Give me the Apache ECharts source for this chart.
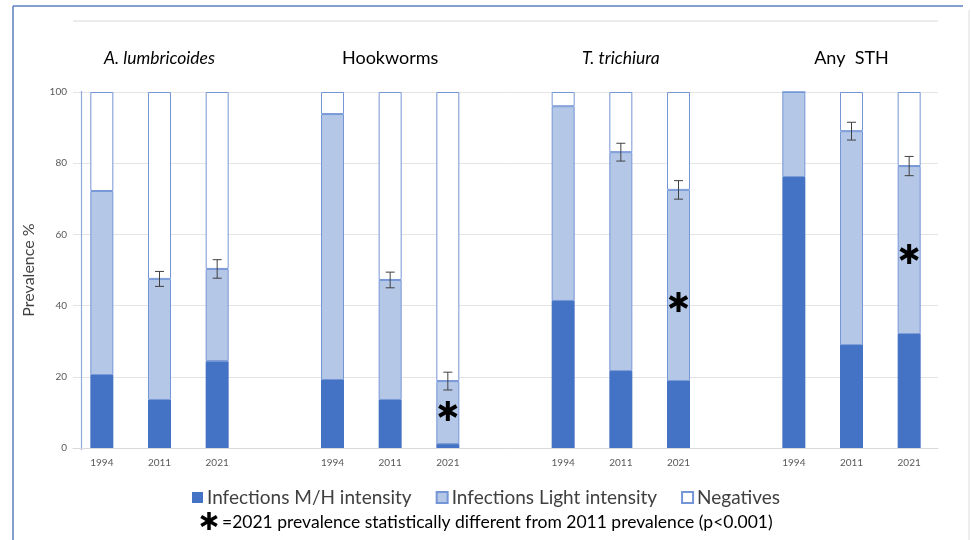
<!DOCTYPE html>
<html><head><meta charset="utf-8">
<script src="https://cdn.jsdelivr.net/npm/echarts@6/dist/echarts.min.js"></script>
<style>html,body{margin:0;padding:0;background:#fff}#c{width:972px;height:540px}</style>
</head><body><div id="c"></div>
<script>
const categories = ['1994','2011','2021','','1994','2011','2021','','1994','2011','2021','','1994','2011','2021'];
const groupTitles = ['A. lumbricoides','Hookworms','T. trichiura','Any  STH'];
const groupTitleItalic = [true,false,true,false];
const groupCenterIndex = [1,5,9,13];
const yTicks = [0,20,40,60,80,100];
const mhIntensity =    [20.5,13.5,24.4,null,19.1,13.5, 1.1,null,41.3,21.6,18.8,null,76.1,28.9,32.0];
const lightIntensity = [51.7,34.0,25.9,null,74.7,33.7,17.7,null,54.7,61.5,53.7,null,23.9,60.1,47.2];
const negatives =      [27.8,52.5,49.7,null, 6.2,52.8,81.2,null, 4.0,16.9,27.5,null, 0.0,11.0,20.8];
const errorHalf =      [null, 2.1, 2.6,null,null, 2.2, 2.5,null,null, 2.5, 2.6,null,null, 2.5, 2.7];
const asteriskAt =     [null,null,null,null,null,null,10.4,null,null,null,41.0,null,null,null,54.5];

const FONT = 'Lato, "Open Sans", sans-serif';
const chart = echarts.init(document.getElementById('c'), null, {renderer:'canvas'});

const errData = [];
categories.forEach((c,i)=>{ if(errorHalf[i]!=null) errData.push([i, mhIntensity[i]+lightIntensity[i], errorHalf[i]]); });
const astData = [];
categories.forEach((c,i)=>{ if(asteriskAt[i]!=null) astData.push([i, asteriskAt[i]]); });

function asteriskShape(cx, cy, r, lw){
  const kids = [];
  [90,30,150].forEach(a=>{
    const rad = a*Math.PI/180;
    kids.push({type:'line', shape:{x1:cx-r*Math.cos(rad), y1:cy-r*Math.sin(rad), x2:cx+r*Math.cos(rad), y2:cy+r*Math.sin(rad)},
      style:{stroke:'#000', lineWidth:lw}});
  });
  return kids;
}

const barW = 23;
const option = {
  animation:false,
  backgroundColor:'#fff',
  grid:{left:73, right:34, top:92, bottom:92, containLabel:false},
  legend:{
    data:['Infections M/H intensity','Infections Light intensity','Negatives'],
    left:'center', top:483, icon:'rect', itemWidth:11, itemHeight:11, itemGap:24,
    textStyle:{fontFamily:FONT, fontSize:19, color:'#404040', padding:[0,0,0,-1]}
  },
  xAxis:{
    type:'category', data:categories,
    axisLine:{show:true, lineStyle:{color:'#d9d9d9', width:1}},
    axisTick:{show:false},
    axisLabel:{color:'#595959', fontSize:10, fontFamily:FONT, margin:10, interval:0}
  },
  yAxis:{
    type:'value', min:0, max:100, interval:20,
    name:'Prevalence %', nameLocation:'middle', nameGap:36,
    nameTextStyle:{fontFamily:FONT, fontSize:16, color:'#404040'},
    axisLine:{show:false}, axisTick:{show:false},
    axisLabel:{color:'#595959', fontSize:10, fontFamily:FONT, margin:6},
    splitLine:{lineStyle:{color:'#e4e4e4', width:1}}
  },
  series:[
    {name:'Infections M/H intensity', type:'bar', stack:'s', barWidth:barW, data:mhIntensity,
     itemStyle:{color:'#4472C4', borderColor:'#4472C4', borderWidth:0}},
    {name:'Infections Light intensity', type:'bar', stack:'s', barWidth:barW, data:lightIntensity,
     itemStyle:{color:'#B4C7E7', borderColor:'#7596D6', borderWidth:1}},
    {name:'Negatives', type:'bar', stack:'s', barWidth:barW, data:negatives,
     itemStyle:{color:'#FFFFFF', borderColor:'#7596D6', borderWidth:1}},
    {name:'err', type:'custom', data:errData, z:10,
     renderItem:function(params, api){
       const x=api.value(0), c=api.value(1), e=api.value(2);
       const t=api.coord([x,c+e]), b=api.coord([x,c-e]); const cw=4.5;
       const st={stroke:'#404040', lineWidth:1};
       return {type:'group', children:[
         {type:'line', shape:{x1:t[0],y1:t[1],x2:b[0],y2:b[1]}, style:st},
         {type:'line', shape:{x1:t[0]-cw,y1:t[1],x2:t[0]+cw,y2:t[1]}, style:st},
         {type:'line', shape:{x1:b[0]-cw,y1:b[1],x2:b[0]+cw,y2:b[1]}, style:st}
       ]};
     }},
    {name:'ast', type:'custom', data:astData, z:11,
     renderItem:function(params, api){
       const p=api.coord([api.value(0), api.value(1)]);
       return {type:'group', children:asteriskShape(p[0], p[1], 10, 4)};
     }}
  ]
};
chart.setOption(option);

const g = [];
groupTitles.forEach((t,k)=>{
  const x = chart.convertToPixel({xAxisIndex:0}, groupCenterIndex[k]);
  g.push({type:'text', x:x, y:58, style:{text:t, fontFamily:FONT, fontSize: groupTitleItalic[k]?17.5:18,
    fontStyle: groupTitleItalic[k]?'italic':'normal', fill:'#000', align:'center', verticalAlign:'middle'}});
});
// frame and decorative lines
g.push({type:'line', shape:{x1:13,y1:6,x2:963,y2:6}, style:{stroke:'#5a7fc0', lineWidth:1.5}});
g.push({type:'line', shape:{x1:13,y1:6,x2:13,y2:540}, style:{stroke:'#5a7fc0', lineWidth:1.5}});
g.push({type:'line', shape:{x1:969,y1:10,x2:969,y2:540}, style:{stroke:'#dcdcdc', lineWidth:1}});
g.push({type:'line', shape:{x1:73,y1:21,x2:938,y2:21}, style:{stroke:'#ececec', lineWidth:2}});
g.push({type:'line', shape:{x1:81.5,y1:91,x2:81.5,y2:450}, style:{stroke:'#8eaadb', lineWidth:1.2}});
// footnote
g.push({type:'group', children:asteriskShape(209, 521, 9, 3.5)});
g.push({type:'text', x:222, y:522, style:{text:'=2021 prevalence statistically different from 2011 prevalence (p<0.001)',
  fontFamily:FONT, fontSize:17.5, fill:'#000', align:'left', verticalAlign:'middle'}});
chart.setOption({graphic:g});
</script>
</body></html>
